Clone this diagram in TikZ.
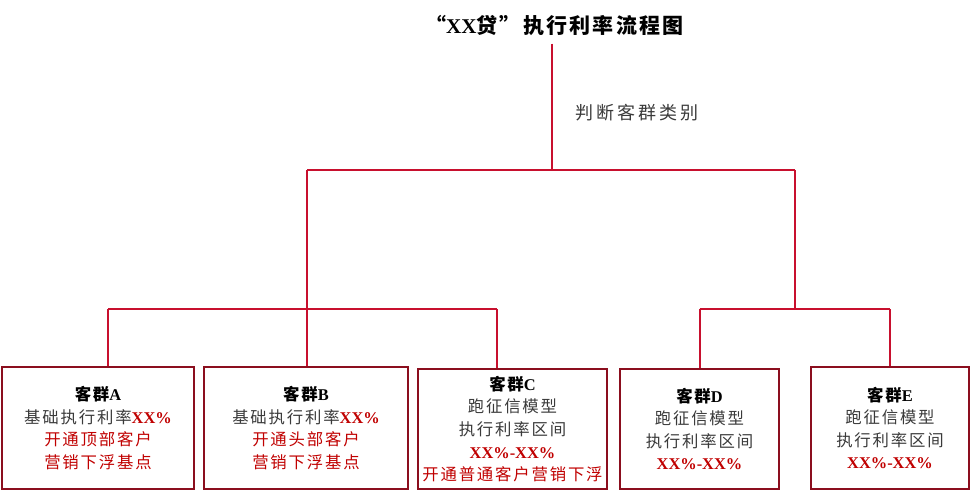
\documentclass[tikz,border=0pt]{standalone}
\usepackage{fontspec}
\setmainfont{Liberation Serif}
\newfontfamily\cjk[LetterSpace=11]{Noto Sans CJK SC}
\newfontfamily\cjkwide[LetterSpace=17]{Noto Sans CJK SC}
\usepackage{tikz}
\usetikzlibrary{positioning}

\definecolor{linered}{HTML}{C8102E}
\definecolor{boxred}{HTML}{8B0E1E}
\definecolor{textred}{HTML}{C00000}
\definecolor{textgray}{HTML}{3A3A3A}

\newcommand{\hlx}[1]{{\normalfont\bfseries\color{textred}#1}}
\newcommand{\redline}[1]{{\color{textred}#1}}
\newcommand{\grouphead}[1]{{\bfseries\color{black}客群{\normalfont\bfseries #1}}}

\begin{document}
\begin{tikzpicture}[x=1pt,y=-1pt,line width=2pt,
				group node/.style={draw=boxred,line width=2.5pt,rectangle,inner sep=0pt,align=center,
					text=textgray,font=\cjk\fontsize{16.4}{22.6}\selectfont},
				link/.style={draw=linered,line width=2pt}]
				
				\useasboundingbox (0,0) rectangle (971,497);
				
				\node (title) at (554.5,25) {\cjk\fontsize{21}{24}\selectfont\bfseries “{\normalfont\bfseries XX}贷”执行利率流程图};
				\node[text=textgray] (rule) at (637,113) {\cjkwide\fontsize{18}{20}\selectfont 判断客群类别};
				
				\node[group node,minimum width=192,minimum height=122] (A) at (98,428)
				{\grouphead{A}\\基础执行利率\hlx{XX\%}\\\redline{开通顶部客户}\\\redline{营销下浮基点}};
				\node[group node,minimum width=204,minimum height=122] (B) at (306,428)
				{\grouphead{B}\\基础执行利率\hlx{XX\%}\\\redline{开通头部客户}\\\redline{营销下浮基点}};
				\node[group node,minimum width=189,minimum height=120] (C) at (512.5,429)
				{\grouphead{C}\\跑征信模型\\执行利率区间\\\hlx{XX\%-XX\%}\\\redline{开通普通客户营销下浮}};
				\node[group node,minimum width=159,minimum height=120] (D) at (699.5,429)
				{\grouphead{D}\\跑征信模型\\执行利率区间\\\hlx{XX\%-XX\%}};
				\node[group node,minimum width=158,minimum height=122] (E) at (890,428)
				{\grouphead{E}\\跑征信模型\\执行利率区间\\\hlx{XX\%-XX\%}};
				
				\coordinate (root) at (552,170);
				\coordinate (lsplit) at (307,170);
				\coordinate (rsplit) at (795,170);
				\coordinate (la) at (108,309);
				\coordinate (lc) at (497,309);
				\coordinate (rmid) at (795,309);
				\coordinate (rd) at (D.north |- rmid);
				\coordinate (re) at (E.north |- rmid);
				
				% trunk and first split
				\draw[link] ([yshift=-4pt]title.south -| root) -- (root);
				\draw[link] (lsplit) -- (rsplit);
				\draw[link] (lsplit) -- (lsplit |- B.north);
				
				% left branch
				\draw[link] (la) -- (lc);
				\draw[link] (la) -- (la |- A.north);
				\draw[link] (lc) -- (lc |- C.north);
				
				% right branch
				\draw[link] (rsplit) -- (rmid);
				\draw[link] (rd) -- (re);
				\draw[link] (rd) -- (D.north);
				\draw[link] (re) -- (E.north);
				
\end{tikzpicture}
\end{document}
